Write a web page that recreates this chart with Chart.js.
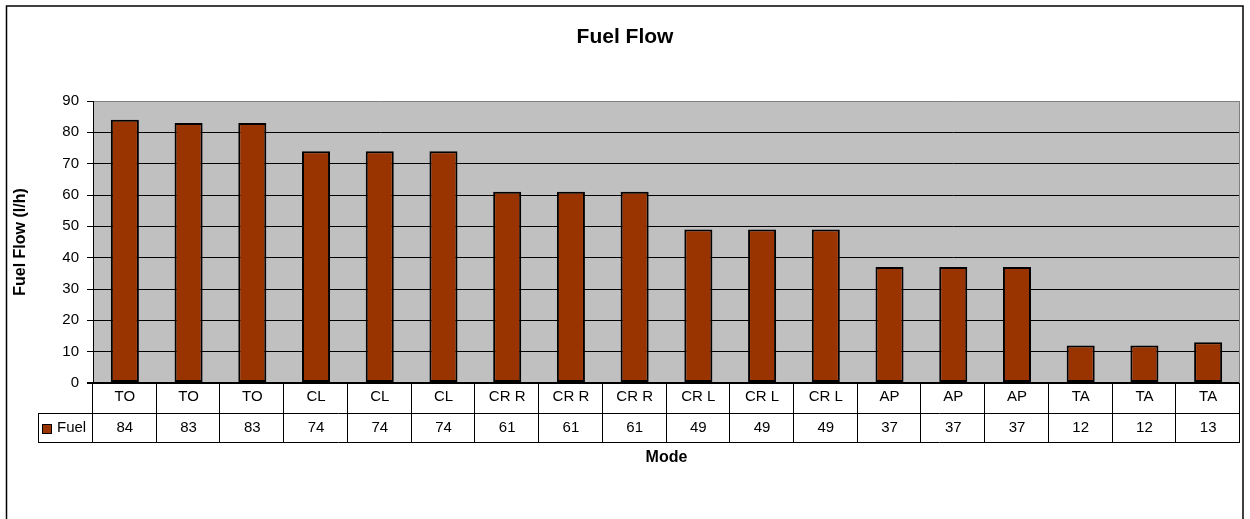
<!DOCTYPE html>
<html>
<head>
<meta charset="utf-8">
<script src="https://cdn.jsdelivr.net/npm/chart.js@4/dist/chart.umd.min.js"></script>
<style>
html,body{margin:0;padding:0;background:#fff;}
canvas{display:block;}
</style>
</head>
<body>
<canvas id="c" width="1250" height="519"></canvas>
<script>
const categories = ["TO","TO","TO","CL","CL","CL","CR R","CR R","CR R","CR L","CR L","CR L","AP","AP","AP","TA","TA","TA"];
const fuelValues = [84,83,83,74,74,74,61,61,61,49,49,49,37,37,37,12,12,13];
const seriesName = "Fuel";
const chartTitle = "Fuel Flow";
const yAxisTitle = "Fuel Flow (l/h)";
const xAxisTitle = "Mode";
const yTicks = [0,10,20,30,40,50,60,70,80,90];

const FONT = '"Liberation Sans", Arial, sans-serif';
const BAR = '#993300';

const decor = {
  id: 'decor',
  beforeDraw(chart) {
    const {ctx, chartArea: a} = chart;
    ctx.save();
    ctx.fillStyle = '#fff';
    ctx.fillRect(0, 0, chart.width, chart.height);
    ctx.fillStyle = '#C0C0C0';
    ctx.fillRect(a.left, a.top, a.right - a.left, a.bottom - a.top);
    ctx.restore();
  },
  afterDraw(chart) {
    const {ctx, chartArea: a} = chart;
    const xs = chart.scales.x;
    const n = categories.length;
    const w = (xs.right - xs.left) / n;
    ctx.save();
    // plot right border
    ctx.strokeStyle = '#808080';
    ctx.lineWidth = 1;
    ctx.beginPath();
    ctx.moveTo(a.right - 0.5, a.top);
    ctx.lineTo(a.right - 0.5, a.bottom);
    ctx.stroke();

    // data table
    const r0 = a.bottom, r1 = r0 + 30, r2 = r1 + 29;
    const legL = 38;
    ctx.strokeStyle = '#000';
    ctx.lineWidth = 1;
    ctx.beginPath();
    ctx.moveTo(legL, r1 + 0.5); ctx.lineTo(xs.right, r1 + 0.5);
    ctx.moveTo(legL, r2 + 0.5); ctx.lineTo(xs.right, r2 + 0.5);
    ctx.moveTo(legL + 0.5, r1); ctx.lineTo(legL + 0.5, r2);
    for (let i = 0; i <= n; i++) {
      const x = Math.round(xs.left + i * w) - 0.5;
      ctx.moveTo(x, r0); ctx.lineTo(x, r2);
    }
    ctx.stroke();

    ctx.fillStyle = '#000';
    ctx.font = '15px ' + FONT;
    ctx.textAlign = 'center';
    ctx.textBaseline = 'middle';
    categories.forEach((c, i) => {
      const cx = xs.getPixelForValue(i);
      ctx.fillText(c, cx, (r0 + r1) / 2 - 1);
      ctx.fillText(String(fuelValues[i]), cx, (r1 + r2) / 2);
    });
    // legend key
    ctx.fillStyle = BAR;
    ctx.fillRect(42.5, 424.5, 9, 9);
    ctx.strokeStyle = '#000';
    ctx.strokeRect(42.5, 424.5, 9, 9);
    ctx.fillStyle = '#000';
    ctx.textAlign = 'left';
    ctx.fillText(seriesName, 57, (r1 + r2) / 2);

    // titles
    ctx.textAlign = 'center';
    ctx.font = 'bold 21px ' + FONT;
    ctx.fillText(chartTitle, chart.width / 2, 37);
    ctx.font = 'bold 16px ' + FONT;
    ctx.fillText(xAxisTitle, (a.left + a.right) / 2, 458);
    ctx.save();
    ctx.translate(21, (a.top + a.bottom) / 2);
    ctx.rotate(-Math.PI / 2);
    ctx.fillText(yAxisTitle, 0, 0);
    ctx.restore();

    // outer border
    ctx.strokeStyle = '#000';
    ctx.lineWidth = 1.5;
    ctx.strokeRect(6.5, 6, 1236.5, 530);
    ctx.restore();
  }
};

new Chart(document.getElementById('c'), {
  type: 'bar',
  data: {
    labels: categories,
    datasets: [{
      label: seriesName,
      data: fuelValues,
      backgroundColor: BAR,
      borderColor: '#000',
      borderWidth: 2,
      borderSkipped: false,
      categoryPercentage: 1,
      barPercentage: 0.44
    }]
  },
  options: {
    responsive: false,
    devicePixelRatio: 1,
    animation: false,
    layout: { padding: { top: 101, bottom: 136, left: 0, right: 10 } },
    plugins: { legend: { display: false }, title: { display: false }, tooltip: { enabled: false } },
    scales: {
      x: { display: false },
      y: {
        min: 0, max: 90,
        afterFit(s) { s.width = 93; },
        afterBuildTicks(s) { s.ticks = yTicks.map(v => ({ value: v })); },
        ticks: { stepSize: 10, color: '#000', font: { size: 15, family: FONT }, padding: 8 },
        grid: {
          color: c => (c.tick && c.tick.value === 90) ? '#808080' : '#000',
          lineWidth: c => (c.tick && c.tick.value === 0) ? 2 : 1,
          tickColor: '#000',
          tickLength: 6
        },
        border: { display: true, color: '#000', width: 1 }
      }
    }
  },
  plugins: [decor]
});
</script>
</body>
</html>
